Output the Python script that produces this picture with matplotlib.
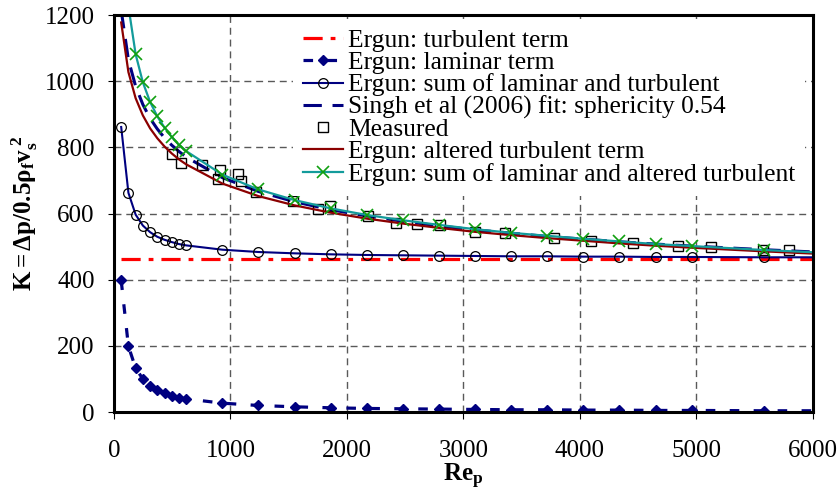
import matplotlib
matplotlib.use("Agg")
import matplotlib.pyplot as plt

plt.rcParams['font.family'] = 'Liberation Serif'
plt.rcParams['mathtext.fontset'] = 'custom'
plt.rcParams['mathtext.rm'] = 'Liberation Serif'
plt.rcParams['mathtext.it'] = 'Liberation Serif:italic'
plt.rcParams['mathtext.bf'] = 'Liberation Serif:bold'

# particle Reynolds numbers of the calculated points
re_grid = [62, 124, 186, 248, 310, 372, 434, 496, 558, 620, 930, 1240, 1550, 1860,
           2170, 2480, 2790, 3100, 3410, 3720, 4030, 4340, 4650, 4960, 5580, 6200]
re_turb = [62, 6200]
k_turb = [464, 464]
k_lam = [398, 199, 133, 100, 80, 66, 57, 50, 44, 40, 27, 20, 16, 13,
         11, 10, 9, 8, 7, 7, 6, 6, 5, 5, 4, 4]
k_sum = [862, 663, 597, 564, 544, 530, 521, 514, 508, 504, 491, 484, 480, 477,
         475, 474, 473, 472, 471, 471, 470, 470, 469, 469, 468, 468]
k_singh = [1215, 1065, 985, 930, 888, 856, 829, 807, 788, 771, 709, 667, 636, 612,
           593, 577, 563, 551, 541, 531, 523, 515, 508, 502, 491, 481]
k_alt = [1178, 1028, 949, 897, 858, 828, 803, 782, 764, 749, 691, 653, 625, 603,
         585, 570, 557, 545, 535, 526, 518, 510, 503, 497, 486, 476]
k_sum_alt = [1576, 1227, 1082, 997, 938, 894, 860, 832, 808, 789, 718, 673, 641, 616,
             596, 580, 566, 553, 542, 533, 524, 516, 508, 502, 490, 480]

# measurements
re_meas = [501, 576, 754, 897, 911, 1063, 1089, 1221, 1540, 1754, 1854, 2178,
           2422, 2603, 2800, 3096, 3353, 3775, 4099, 4453, 4844, 5125, 5575, 5798]
k_meas = [779, 753, 748, 705, 733, 721, 699, 665, 639, 614, 622, 594,
          572, 570, 565, 545, 540, 525, 518, 510, 502, 498, 491, 489]

fig = plt.figure(figsize=(8.38, 4.90), dpi=100)
ax = fig.add_axes([0.136, 0.159, 0.834, 0.810])

ax.plot(re_turb, k_turb, color='#ff0000', lw=2.3, dashes=(6, 2.5, 1.5, 2.5),
        label='Ergun: turbulent term')
ax.plot(re_grid, k_lam, color='#000080', lw=2.3, dashes=(3, 4.5), marker='D',
        ms=5, mfc='#000080', mec='#000080', label='Ergun: laminar term')
ax.plot(re_grid, k_sum, color='#000080', lw=1.5, marker='o', ms=7, mfc='none',
        mec='black', mew=0.9, label='Ergun: sum of laminar and turbulent')
ax.plot(re_grid, k_singh, color='#000080', lw=2.2, dashes=(6, 3.5),
        label='Singh et al (2006) fit: sphericity 0.54')
ax.plot(re_meas, k_meas, ls='none', marker='s', ms=7.5, mfc='none', mec='black',
        mew=1.0, label='Measured')
ax.plot(re_grid, k_alt, color='#8b0000', lw=1.6, label='Ergun: altered turbulent term')
ax.plot(re_grid, k_sum_alt, color='#139b9b', lw=1.6, marker='x', ms=8, mec='#10a010',
        mew=1.2, label='Ergun: sum of laminar and altered turbulent')

ax.set_xlim(0, 6000)
ax.set_ylim(0, 1200)
ax.set_xticks(range(0, 6001, 1000))
ax.set_yticks(range(0, 1201, 200))
ax.grid(True, color='0.35', ls=(0, (5, 3.5)), lw=1.0)
ax.set_axisbelow(True)
for s in ax.spines.values():
    s.set_linewidth(2.2)
ax.tick_params(axis='x', direction='out', length=5, width=0.8, pad=15, labelsize=18)
ax.tick_params(axis='y', direction='out', length=4, width=0.8, pad=10, labelsize=18)

ax.set_xlabel(r'$\mathbf{Re_p}$', fontsize=18, labelpad=0)
ax.set_ylabel(r'$\mathbf{K{=}\Delta p/0.5\rho_f v_s^{\ 2}}$', fontsize=18, labelpad=3)

leg = ax.legend(loc='upper left', bbox_to_anchor=(293 / 838, 1 - 19 / 490),
                bbox_transform=fig.transFigure, fontsize=18.4, frameon=True,
                fancybox=False, edgecolor='none', facecolor='white', framealpha=1,
                borderpad=0.4, borderaxespad=0, handlelength=1.55, handletextpad=0.2,
                labelspacing=-0.03)

fig.savefig('out.png', dpi=100)
